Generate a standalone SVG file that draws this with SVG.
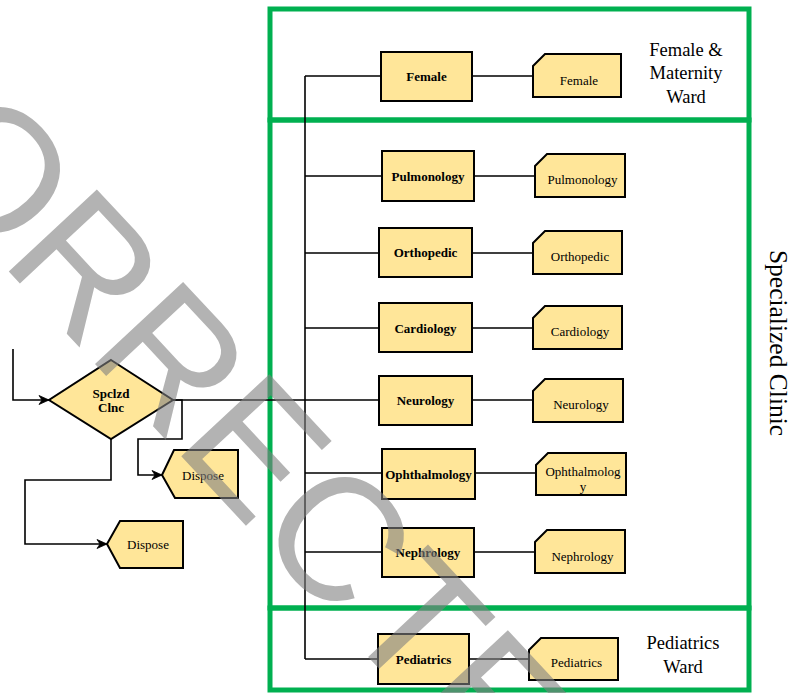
<svg xmlns="http://www.w3.org/2000/svg" width="789" height="693" viewBox="0 0 789 693">
  <defs>
    <marker id="arr" markerUnits="userSpaceOnUse" markerWidth="14" markerHeight="12" refX="12" refY="6" orient="auto">
      <path d="M2,1.5 L12,6 L2,10.5 L5,6 Z" fill="#000" stroke="#000" stroke-width="0.8" stroke-linejoin="miter"/>
    </marker>
  </defs>
  <style>
    .box { fill: #FFE699; stroke: #000; stroke-width: 2; }
    .tag { fill: #FFE699; stroke: #000; stroke-width: 2; }
    .b { font-family: "Liberation Serif", "Times New Roman", serif; font-size: 13px; font-weight: bold; text-anchor: middle; fill: #000; }
    .r { font-family: "Liberation Serif", "Times New Roman", serif; font-size: 13px; text-anchor: middle; fill: #000; }
    .lab { font-family: "Liberation Serif", "Times New Roman", serif; font-size: 18.5px; text-anchor: middle; fill: #000; }
    .ln { fill: none; stroke: #000; stroke-width: 1.6; }
    .zone { fill: none; stroke: #00B050; stroke-width: 5; }
    .wm { font-family: "Liberation Sans", Arial, sans-serif; font-size: 175px; fill: #808080; fill-opacity: 0.6; }
  </style>

  <rect width="789" height="693" fill="#fff"/>

  <g id="zones">
    <rect class="zone" x="270" y="9" width="479" height="111"/>
    <rect class="zone" x="270" y="120" width="479" height="488"/>
    <rect class="zone" x="270" y="608" width="479" height="82"/>
    <text class="lab" x="686" y="56">Female &amp;</text>
    <text class="lab" x="686" y="79">Maternity</text>
    <text class="lab" x="686" y="103">Ward</text>
    <text class="lab" x="683" y="649">Pediatrics</text>
    <text class="lab" x="683" y="673">Ward</text>
    <text class="lab" style="font-size:25.5px" transform="translate(769.5,343) rotate(90)">Specialized Clinic</text>
  </g>

  <g id="connectors">
    <path class="ln" d="M305,76 V659"/>
    <path class="ln" d="M305,76 H381 M472,76 H533"/>
    <path class="ln" d="M305,176 H382 M474,176 H535"/>
    <path class="ln" d="M305,253 H379 M472,253 H533"/>
    <path class="ln" d="M305,328 H379 M472,328 H533"/>
    <path class="ln" d="M173,400 H379 M472,400 H533"/>
    <path class="ln" d="M305,473 H382 M475,473 H536"/>
    <path class="ln" d="M305,552 H382 M474,552 H535"/>
    <path class="ln" d="M305,659 H378 M469,659 H529"/>
    <path class="ln" d="M13,349 V400 H49" marker-end="url(#arr)"/>
    <path class="ln" d="M173,400 H182 V439 H138 V475 H162" marker-end="url(#arr)"/>
    <path class="ln" d="M111,439 V480 H25 V544 H107" marker-end="url(#arr)"/>
  </g>

  <g id="spclzd-clnc">
    <polygon class="box" points="111,360 173,400 111,439 49,400"/>
    <text class="b" x="111" y="398">Spclzd</text>
    <text class="b" x="111" y="412">Clnc</text>
  </g>
  <g id="dispose-1">
    <polygon class="tag" points="162,475 174,450 238,450 238,498 175,498"/>
    <text class="r" x="203" y="479.5">Dispose</text>
  </g>
  <g id="dispose-2">
    <polygon class="tag" points="107,544 120,521 183,521 183,568 120,568"/>
    <text class="r" x="148" y="548.5">Dispose</text>
  </g>

  <g id="female">
    <rect class="box" x="381" y="52" width="91" height="49"/>
    <text class="b" x="426.5" y="81">Female</text>
  </g>
  <g id="female-out">
    <path class="tag" d="M533,66 L545,54 H621 V97 H533 Z"/>
    <text class="r" x="579" y="84.5">Female</text>
  </g>

  <g id="pulmonology">
    <rect class="box" x="382" y="151" width="92" height="50"/>
    <text class="b" x="428" y="181">Pulmonology</text>
  </g>
  <g id="pulmonology-out">
    <path class="tag" d="M535,166 L547,154 H625 V197 H535 Z"/>
    <text class="r" x="582.5" y="184">Pulmonology</text>
  </g>

  <g id="orthopedic">
    <rect class="box" x="379" y="228" width="93" height="49"/>
    <text class="b" x="425.5" y="257">Orthopedic</text>
  </g>
  <g id="orthopedic-out">
    <path class="tag" d="M533,243 L545,231 H622 V274 H533 Z"/>
    <text class="r" x="580" y="261">Orthopedic</text>
  </g>

  <g id="cardiology">
    <rect class="box" x="379" y="303" width="93" height="49"/>
    <text class="b" x="425.5" y="332.5">Cardiology</text>
  </g>
  <g id="cardiology-out">
    <path class="tag" d="M533,318 L545,306 H622 V349 H533 Z"/>
    <text class="r" x="580" y="336">Cardiology</text>
  </g>

  <g id="neurology">
    <rect class="box" x="379" y="376" width="93" height="49"/>
    <text class="b" x="425.5" y="405">Neurology</text>
  </g>
  <g id="neurology-out">
    <path class="tag" d="M533,391 L545,379 H623 V422 H533 Z"/>
    <text class="r" x="581" y="408.5">Neurology</text>
  </g>

  <g id="ophthalmology">
    <rect class="box" x="382" y="449" width="93" height="50"/>
    <text class="b" x="428.5" y="478.5">Ophthalmology</text>
  </g>
  <g id="ophthalmology-out">
    <path class="tag" d="M536,465 L548,453 H626 V495 H536 Z"/>
    <text class="r" x="583" y="476">Ophthalmolog</text>
    <text class="r" x="583" y="491">y</text>
  </g>

  <g id="nephrology">
    <rect class="box" x="382" y="528" width="92" height="49"/>
    <text class="b" x="428" y="557">Nephrology</text>
  </g>
  <g id="nephrology-out">
    <path class="tag" d="M535,542 L547,530 H625 V573 H535 Z"/>
    <text class="r" x="582.5" y="560.5">Nephrology</text>
  </g>

  <g id="pediatrics">
    <rect class="box" x="378" y="634" width="91" height="50"/>
    <text class="b" x="423.5" y="664">Pediatrics</text>
  </g>
  <g id="pediatrics-out">
    <path class="tag" d="M529,650 L541,638 H618 V680 H529 Z"/>
    <text class="r" x="576.5" y="667">Pediatrics</text>
  </g>

  <g id="watermark">
    <text class="wm" transform="translate(-180,69) rotate(47)">CORRECTED</text>
  </g>
</svg>
